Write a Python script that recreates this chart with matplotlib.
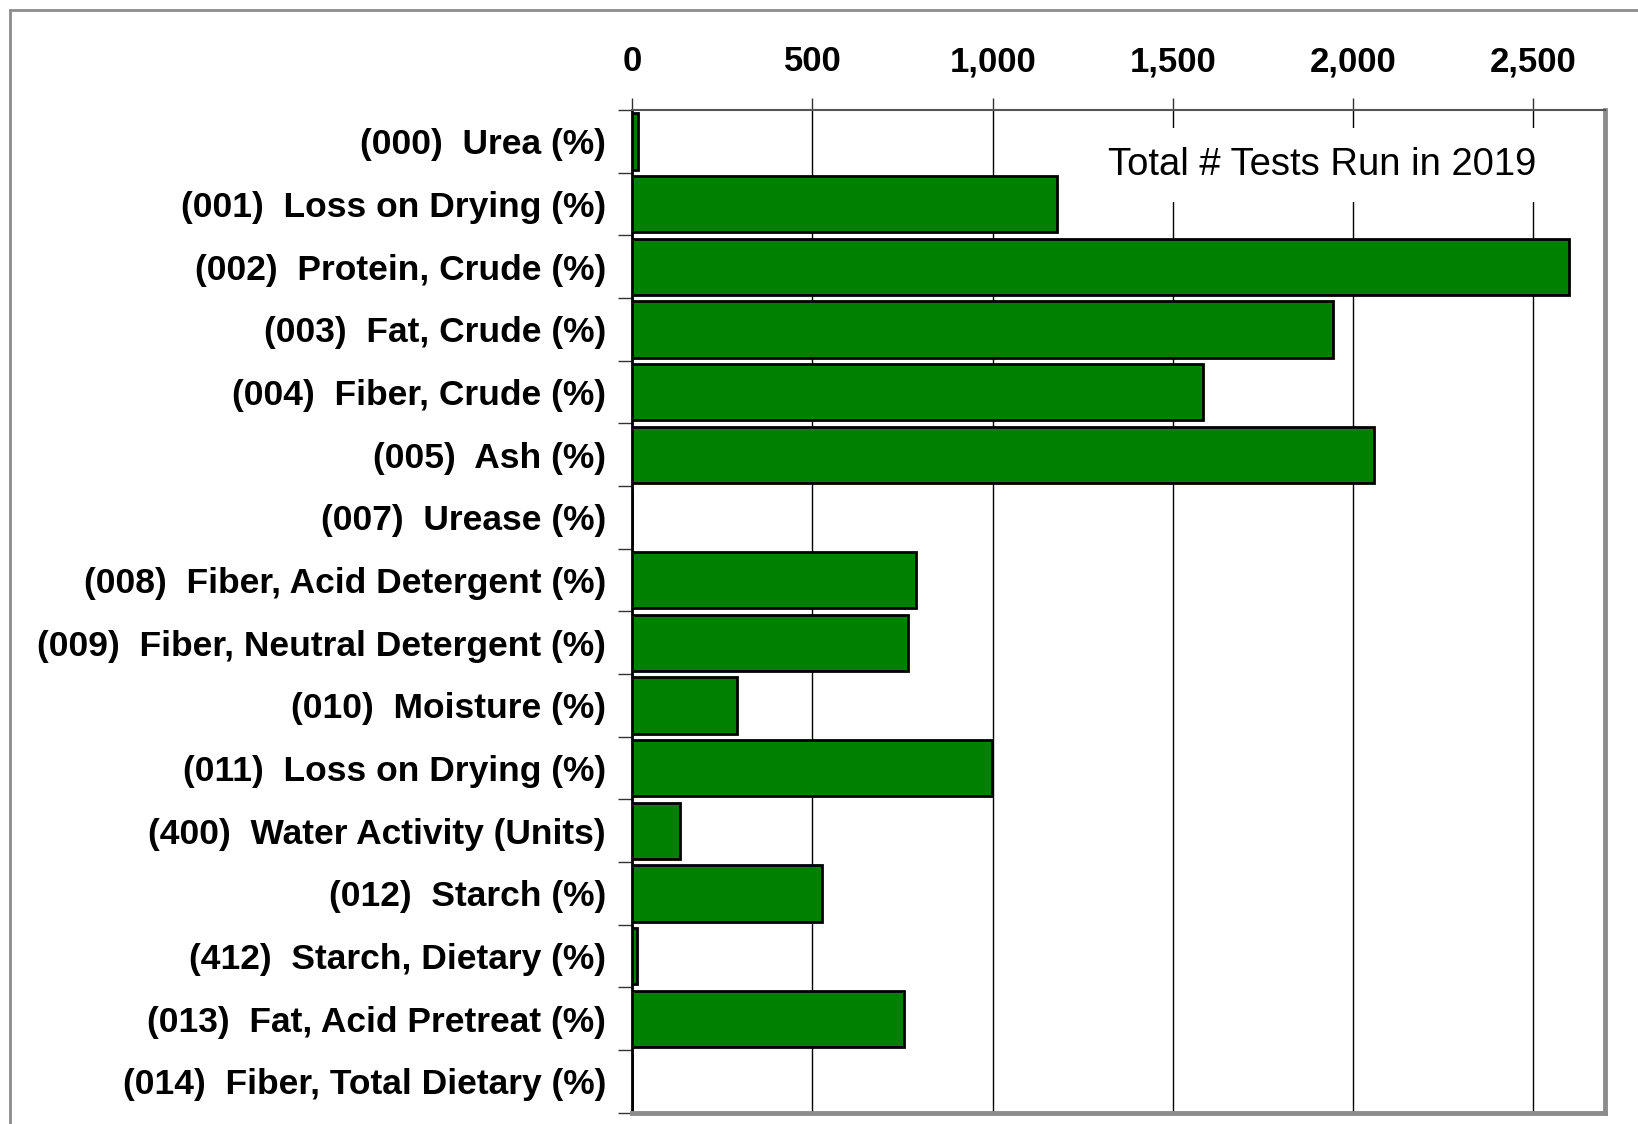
import matplotlib.pyplot as plt
from matplotlib.patches import Rectangle

plt.rcParams["font.family"] = ["Liberation Sans", "DejaVu Sans"]

# test names, top to bottom
labels = ['(000)  Urea (%)', '(001)  Loss on Drying (%)', '(002)  Protein, Crude (%)',
          '(003)  Fat, Crude (%)', '(004)  Fiber, Crude (%)', '(005)  Ash (%)',
          '(007)  Urease (%)', '(008)  Fiber, Acid Detergent (%)',
          '(009)  Fiber, Neutral Detergent (%)', '(010)  Moisture (%)',
          '(011)  Loss on Drying (%)', '(400)  Water Activity (Units)',
          '(012)  Starch (%)', '(412)  Starch, Dietary (%)',
          '(013)  Fat, Acid Pretreat (%)', '(014)  Fiber, Total Dietary (%)']
# total tests run in 2019
tests = [16, 1180, 2600, 1945, 1583, 2058, 0, 788, 765, 290, 997, 133, 527, 12, 755, 0]
xticks = [0, 500, 1000, 1500, 2000, 2500]

fig = plt.figure(figsize=(16.38, 11.24), dpi=100)
ax = fig.add_axes([0.386, 0.010, 0.594, 0.892])

y = list(range(len(labels)))
ax.barh(y, tests, height=0.9, color='#008000', edgecolor='black', linewidth=2, zorder=3)

ax.set_xlim(0, 2700)
ax.set_ylim(15.5, -0.5)
ax.set_xticks(xticks)
ax.set_xticklabels([f'{v:,}' for v in xticks], fontsize=25, fontweight='bold')
ax.xaxis.tick_top()
ax.tick_params(axis='x', length=9, width=1, pad=14, color='#333333')
ax.grid(axis='x', color='black', linewidth=1, zorder=1)

ax.set_yticks(y)
ax.set_yticklabels(labels, fontsize=25.5, fontweight='bold')
ax.set_yticks([i - 0.5 for i in range(len(labels) + 1)], minor=True)
ax.tick_params(axis='y', which='major', length=0, pad=19)
ax.tick_params(axis='y', which='minor', length=10, width=1, color='#333333')

ax.spines['left'].set_color('black')
ax.spines['left'].set_linewidth(2)
ax.spines['top'].set_color('#555555')
ax.spines['top'].set_linewidth(1.5)
for s in ['right', 'bottom']:
    ax.spines[s].set_color('#8c8c8c')
    ax.spines[s].set_linewidth(3.5)

# label box covers the gridlines behind it
ax.text(2510, 0.38, 'Total # Tests Run in 2019', fontsize=27.5, ha='right', va='center',
        zorder=4, bbox=dict(facecolor='white', edgecolor='none', boxstyle='square,pad=0.5'))

# grey frame of the chart area
fig.patches.append(Rectangle((10 / 1638, -0.1), 1.2, 1.1 - 10 / 1124,
                             transform=fig.transFigure, fill=False,
                             edgecolor='#8c8c8c', linewidth=2))

fig.savefig('out.png', dpi=100)
